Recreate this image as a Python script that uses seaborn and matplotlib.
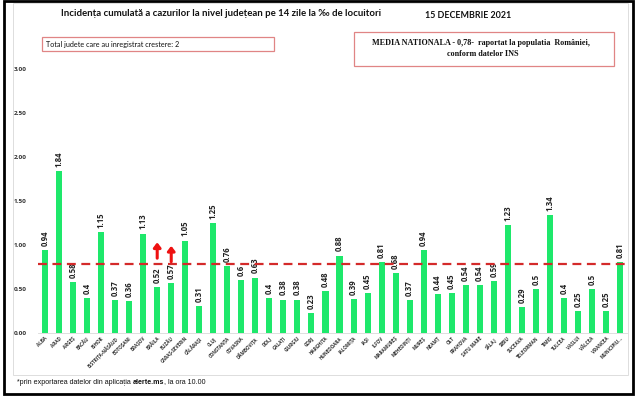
import matplotlib
matplotlib.use("Agg")
import matplotlib.pyplot as plt
import matplotlib.patches as patches
import seaborn as sns
import pandas as pd

judete = ["ALBA", "ARAD", "ARGEȘ", "BACĂU", "BIHOR", "BISTRIȚA-NĂSĂUD", "BOTOȘANI",
          "BRAȘOV", "BRĂILA", "BUZĂU", "CARAȘ-SEVERIN", "CĂLĂRAȘI", "CLUJ", "CONSTANȚA",
          "COVASNA", "DÂMBOVIȚA", "DOLJ", "GALAȚI", "GIURGIU", "GORJ", "HARGHITA",
          "HUNEDOARA", "IALOMIȚA", "IAȘI", "ILFOV", "MARAMUREȘ", "MEHEDINȚI", "MUREȘ",
          "NEAMȚ", "OLT", "PRAHOVA", "SATU MARE", "SĂLAJ", "SIBIU", "SUCEAVA",
          "TELEORMAN", "TIMIȘ", "TULCEA", "VASLUI", "VÂLCEA", "VRANCEA", "MUNICIPIU..."]
incidenta = [0.94, 1.84, 0.58, 0.4, 1.15, 0.37, 0.36, 1.13, 0.52, 0.57, 1.05, 0.31,
             1.25, 0.76, 0.6, 0.63, 0.4, 0.38, 0.38, 0.23, 0.48, 0.88, 0.39, 0.45,
             0.81, 0.68, 0.37, 0.94, 0.44, 0.45, 0.54, 0.54, 0.59, 1.23, 0.29, 0.5,
             1.34, 0.4, 0.25, 0.5, 0.25, 0.81]
media_nationala = 0.78
judete_crestere = ["BRĂILA", "BUZĂU"]
y_ticks = [0.0, 0.5, 1.0, 1.5, 2.0, 2.5, 3.0]

df = pd.DataFrame({"judet": judete, "incidenta": incidenta})

W, H = 637, 397
fig = plt.figure(figsize=(W / 100, H / 100), dpi=100)
fig.patch.set_facecolor("white")

def px(x, y):
    return x / W, 1 - y / H

ax = fig.add_axes([38 / W, (H - 333) / H, 589 / W, 264 / H])
sns.barplot(data=df, x="judet", y="incidenta", color="#1ee86b", saturation=1,
            width=0.43, ax=ax)
ax.set_xlim(-0.5, len(judete) - 0.5)
ax.set_ylim(0, 3)
ax.set_yticks(y_ticks)
ax.set_yticklabels([f"{v:.2f}" for v in y_ticks], fontsize=4.6, fontweight="bold",
                   color="#333333", family="Open Sans")
ax.tick_params(axis="y", length=0, pad=8)
ax.tick_params(axis="x", length=0, pad=2)
ax.set_xticks(range(len(judete)))
ax.set_xticklabels(judete, rotation=45, ha="right", va="top", rotation_mode="anchor",
                   fontsize=3.3, fontweight="bold", color="#333333", family="Open Sans")
ax.set_xlabel("")
ax.set_ylabel("")
for s in ["top", "right", "left"]:
    ax.spines[s].set_visible(False)
ax.spines["bottom"].set_color("#d9d9d9")
ax.spines["bottom"].set_linewidth(0.6)
ax.set_facecolor("none")

ax.bar_label(ax.containers[0], fmt="{:g}", rotation=90, padding=3, fontsize=5.6,
             fontweight="bold", color="#222222", family="Open Sans")

ax.axhline(media_nationala, color="#d42a2a", lw=1.6, ls=(0, (4, 2.5)), zorder=5)

for j in judete_crestere:
    i = judete.index(j)
    off = 0.0 if i == judete.index(judete_crestere[0]) else -0.04
    ax.annotate("", xy=(i, 1.03 + off), xytext=(i, 0.85 + off),
                arrowprops=dict(arrowstyle="-|>,head_width=0.35,head_length=0.45",
                                color="#ee1111", lw=2.2, mutation_scale=6,
                                shrinkA=0, shrinkB=0), zorder=6)

renderer = fig.canvas.get_renderer()

def fit_text(x0, x1, y, s, **kw):
    t = fig.text(*px(x0, y), s, va="center", ha="left", **kw)
    w = t.get_window_extent(renderer).width
    t.set_fontsize(t.get_fontsize() * (x1 - x0) / w)
    return t

fit_text(61, 382, 14, "Incidența cumulată a cazurilor la nivel județean pe 14 zile la ‰ de locuitori",
         family=["Lato", "DejaVu Sans"], fontweight="bold", fontsize=8, color="#111111")
fit_text(425, 511, 15, "15 DECEMBRIE 2021", family="Lato", fontweight="bold",
         fontsize=8, color="#111111")

fig.patches.append(patches.Rectangle(px(42, 51), 232 / W, 14 / H, transform=fig.transFigure,
                                     fill=False, edgecolor="#e08585", lw=0.9))
fit_text(46, 181, 44, "Total judete care au inregistrat crestere: 2", family="Lato",
         fontsize=5, color="#111111")

fig.patches.append(patches.Rectangle(px(354, 66), 260 / W, 34 / H, transform=fig.transFigure,
                                     fill=False, edgecolor="#e08585", lw=0.9))
t1 = fit_text(372, 594, 43, "MEDIA NATIONALA - 0,78-  raportat la populatia  României,",
              family="Liberation Serif", fontweight="bold", fontsize=6, color="#111111")
fig.text(*px(483, 54), "conform datelor INS", ha="center", va="center",
         family="Liberation Serif", fontweight="bold", fontsize=t1.get_fontsize(),
         color="#111111")

# footnote, sized so it spans the same width as the reference
parts = [("*prin exportarea datelor din aplicația ", "normal"), ("alerte.ms", "bold"),
         (", la ora 10.00", "normal")]
probe = []
for s, wgt in parts:
    probe.append(fig.text(0, 0, s, family="Liberation Sans", fontweight=wgt, fontsize=5))
total = sum(t.get_window_extent(renderer).width for t in probe)
for t in probe:
    t.remove()
fs = 5 * (208 - 17) / total
x = 17
for s, wgt in parts:
    t = fig.text(*px(x, 382), s, ha="left", va="center", family="Liberation Sans",
                 fontweight=wgt, fontsize=fs, color="#111111")
    x += t.get_window_extent(renderer).width

# panel border and outer frame
fig.patches.append(patches.Rectangle(px(13, 375), 615 / W, 372 / H, transform=fig.transFigure,
                                     fill=False, edgecolor="#dddddd", lw=0.7))
fig.patches.append(patches.Rectangle(px(4, 394), 629 / W, 393 / H, transform=fig.transFigure,
                                     fill=False, edgecolor="black", lw=2))

fig.savefig("out.png", dpi=100)
